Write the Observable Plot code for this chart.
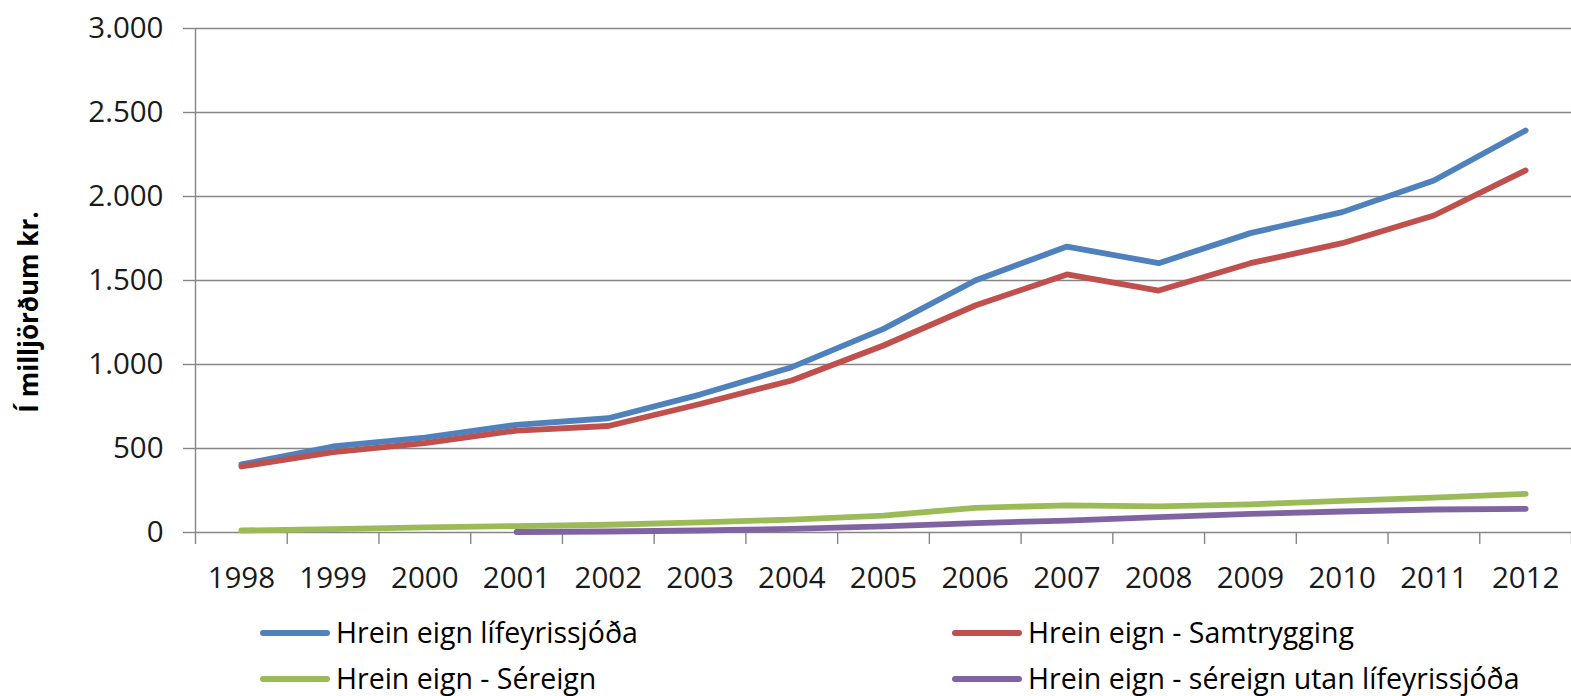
<!DOCTYPE html>
<html>
<head>
<meta charset="utf-8">
<script src="https://cdn.jsdelivr.net/npm/d3@7"></script>
<script src="https://cdn.jsdelivr.net/npm/@observablehq/plot@0.6"></script>
<style>
  html, body { margin: 0; padding: 0; background: #fff; }
  #wrap { position: relative; width: 1571px; height: 696px; font-family: "Open Sans", sans-serif; color: #000; overflow: hidden; }
  #chart { position: absolute; left: 0; top: 0; }
  #ytitle { position: absolute; left: 28px; top: 312px; transform: translate(-50%, -50%) rotate(-90deg); white-space: nowrap; font-weight: bold; font-size: 26px; line-height: 1.1; }
  .leg { position: absolute; display: flex; align-items: center; font-size: 28.5px; line-height: 1.05; white-space: nowrap; transform: translateY(-50%); }
  .sw { display: inline-block; width: 70px; height: 6px; border-radius: 3px; margin-right: 6px; }
</style>
</head>
<body>
<div id="wrap">
  <div id="chart"></div>
  <div id="ytitle">Í milljörðum kr.</div>
  <div id="legend"></div>
</div>
<script>
const years = [1998, 1999, 2000, 2001, 2002, 2003, 2004, 2005, 2006, 2007, 2008, 2009, 2010, 2011, 2012];
const seriesNames = ["Hrein eign lífeyrissjóða", "Hrein eign - Samtrygging", "Hrein eign - Séreign", "Hrein eign - séreign utan lífeyrissjóða"];
const seriesColors = ["#4F81BD", "#C0504D", "#9BBB59", "#8064A2"];
const heildar = [405, 512, 565, 641, 680, 821, 984, 1212, 1500, 1702, 1603, 1782, 1907, 2095, 2393];
const samtrygging = [393, 478, 532, 607, 634, 765, 905, 1113, 1351, 1536, 1440, 1603, 1722, 1887, 2155];
const sereign = [12, 20, 30, 38, 46, 60, 77, 101, 147, 161, 155, 168, 188, 208, 230];
const utan = [null, null, null, 3, 6, 12, 22, 36, 56, 71, 91, 111, 125, 137, 141];
const yTicks = [0, 500, 1000, 1500, 2000, 2500, 3000];

const allValues = [heildar, samtrygging, sereign, utan];
const boundaries = [...years.map(y => y - 0.5), years[years.length - 1] + 0.5];

const gridColor = "#868686";
const fmt = d => d3.format(",")(d).replace(/,/g, ".");

const lineMarks = allValues.map((vals, s) =>
  Plot.line(years.map((yr, i) => ({year: yr, value: vals[i]})), {
    x: "year", y: "value",
    stroke: seriesColors[s], strokeWidth: 5.8,
    strokeLinecap: "round", strokeLinejoin: "round"
  })
);

const chart = Plot.plot({
  width: 1571,
  height: 602,
  marginLeft: 195,
  marginRight: 0,
  marginTop: 28,
  marginBottom: 70,
  style: {fontFamily: "Open Sans", fontSize: "29.5px", color: "#000", background: "transparent", overflow: "visible"},
  x: {domain: [boundaries[0], boundaries[boundaries.length - 1]]},
  y: {domain: [0, 3000]},
  marks: [
    Plot.gridY(yTicks, {stroke: gridColor, strokeOpacity: 1, strokeWidth: 1.4}),
    Plot.axisY(yTicks, {tickSize: 12, tickPadding: 20, tickFormat: fmt, stroke: gridColor, strokeWidth: 1.4, label: null, fontSize: 29.5, fill: "#1a1a1a"}),
    Plot.ruleX([boundaries[0]], {stroke: gridColor, strokeWidth: 1.4}),
    Plot.axisX(boundaries, {tickSize: 12, tickFormat: () => "", stroke: gridColor, strokeWidth: 1.4, label: null}),
    Plot.axisX(years, {tickSize: 0, tickPadding: 35, tickFormat: d => String(d), label: null, fontSize: 29.5, fill: "#1a1a1a"}),
    ...lineMarks
  ]
});
document.getElementById("chart").appendChild(chart);

// legend
const legendPos = [
  {left: 260, top: 633},
  {left: 952, top: 633},
  {left: 260, top: 679},
  {left: 952, top: 679}
];
const legend = document.getElementById("legend");
seriesNames.forEach((name, i) => {
  const d = document.createElement("div");
  d.className = "leg";
  d.style.left = legendPos[i].left + "px";
  d.style.top = legendPos[i].top + "px";
  const sw = document.createElement("span");
  sw.className = "sw";
  sw.style.background = seriesColors[i];
  const t = document.createElement("span");
  t.textContent = name;
  d.appendChild(sw);
  d.appendChild(t);
  legend.appendChild(d);
});
</script>
</body>
</html>
